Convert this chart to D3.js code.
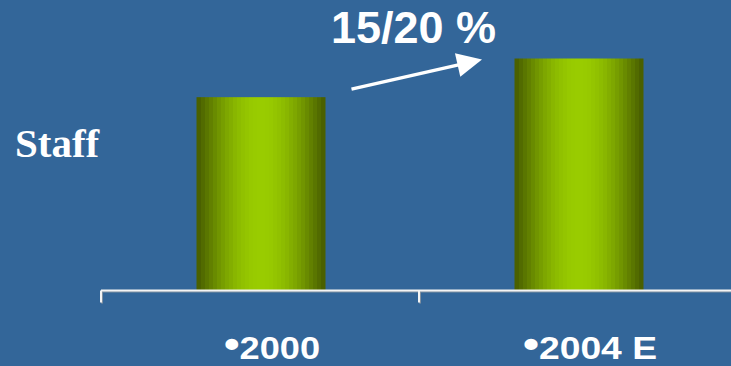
<!DOCTYPE html>
<html>
<head>
<meta charset="utf-8">
<script src="https://cdn.jsdelivr.net/npm/d3@7"></script>
<style>
  html, body { margin: 0; padding: 0; background: #336699; }
  svg { display: block; }
</style>
</head>
<body>
<svg id="chart" width="731" height="366"></svg>
<script>
// ---- data ----
const categories = ["2000", "2004 E"];
const staffValues = [100, 120];
const categoryLabels = ["•2000", "•2004 E"];
const yAxisTitle = "Staff";
const growthLabel = "15/20 %";

// ---- setup ----
const W = 731, H = 366;
const svg = d3.select("#chart");
svg.append("rect").attr("width", W).attr("height", H).attr("fill", "#336699");

const x = d3.scaleBand().domain(categories).range([101, 737]).paddingInner(0).paddingOuter(0);
const y = d3.scaleLinear().domain([0, 150]).range([290.5, 0.5]);
const barW = 129;

// stepped cylinder gradient
const defs = svg.append("defs");
const grad = defs.append("linearGradient").attr("id", "cyl")
  .attr("x1", "0%").attr("x2", "100%").attr("y1", "0%").attr("y2", "0%");
const edge = d3.rgb("#465a00"), mid = d3.rgb("#99cc00");
const nSteps = 32;
for (let i = 0; i < nSteps; i++) {
  const c = (i + 0.5) / nSteps;
  const t = Math.sin(Math.PI * c);           // 0 at edges, 1 in the middle
  const col = d3.interpolateRgb(edge, mid)(Math.pow(t, 1.0));
  grad.append("stop").attr("offset", (i / nSteps * 100) + "%").attr("stop-color", col);
  grad.append("stop").attr("offset", ((i + 1) / nSteps * 100) + "%").attr("stop-color", col);
}

// bars
svg.selectAll("rect.bar").data(categories).join("rect")
  .attr("class", "bar")
  .attr("x", (d) => x(d) + x.bandwidth() / 2 - barW / 2 + 1)
  .attr("width", barW)
  .attr("y", (d, i) => y(staffValues[i]))
  .attr("height", (d, i) => y(0) - y(staffValues[i]))
  .attr("fill", "url(#cyl)");

// axis (shadow + line)
const axisG = svg.append("g");
const drawAxis = (dx, dy, color) => {
  const g = axisG.append("g").attr("transform", `translate(${dx},${y(0) + dy})`);
  g.call(d3.axisBottom(x).tickSize(12).tickFormat(""))
   .call(s => s.select(".domain").attr("stroke", color).attr("stroke-width", 2).attr("d", `M101,0H${W}`))
   .call(s => s.selectAll(".tick line").attr("stroke", color).attr("stroke-width", 2)
     .attr("transform", `translate(${-x.bandwidth() / 2},0)`));
};
drawAxis(1, 1, "#7f8fa0");
drawAxis(0, 0, "#f4f4f4");

// category labels
const lab = svg.selectAll("text.cat").data(categories).join("text")
  .attr("class", "cat")
  .attr("x", (d) => x(d) + x.bandwidth() / 2 + 12)
  .attr("y", 359)
  .attr("text-anchor", "middle")
  .attr("fill", "#ffffff")
  .attr("font-family", "Liberation Sans, Arial, sans-serif")
  .attr("font-weight", "bold")
  .attr("textLength", (d, i) => i === 0 ? 96 : 134)
  .attr("lengthAdjust", "spacingAndGlyphs");
lab.append("tspan").attr("font-size", 38).attr("dy", -2.5).text("•");
lab.append("tspan").attr("font-size", 31).attr("dy", 2.5).text((d, i) => categoryLabels[i].slice(1));

// y-axis title
svg.append("text")
  .attr("x", 15).attr("y", 157)
  .attr("fill", "#ffffff")
  .attr("font-family", "Liberation Serif, Times New Roman, serif")
  .attr("font-weight", "bold")
  .attr("font-size", 41)
  .text(yAxisTitle);

// growth annotation
svg.append("text")
  .attr("x", 331).attr("y", 43)
  .attr("fill", "#ffffff")
  .attr("font-family", "Liberation Sans, Arial, sans-serif")
  .attr("font-weight", "bold")
  .attr("font-size", 45)
  .text(growthLabel);

// arrow derived from the bar positions
const x0 = x(categories[0]) + x.bandwidth() / 2 + barW / 2 + 27;
const y0 = y(staffValues[0]) - 8;
const x1 = x(categories[1]) + 63;
const y1 = y(staffValues[1]) + 1;
const ang = Math.atan2(y1 - y0, x1 - x0);
const hl = 25, hw = 12;
const bx = x1 - hl * Math.cos(ang), by = y1 - hl * Math.sin(ang);
svg.append("line")
  .attr("x1", x0).attr("y1", y0).attr("x2", bx + 2 * Math.cos(ang)).attr("y2", by + 2 * Math.sin(ang))
  .attr("stroke", "#ffffff").attr("stroke-width", 3.5);
svg.append("path")
  .attr("d", `M${x1},${y1}L${bx - hw * Math.sin(ang)},${by + hw * Math.cos(ang)}L${bx + hw * Math.sin(ang)},${by - hw * Math.cos(ang)}Z`)
  .attr("fill", "#ffffff");
</script>
</body>
</html>
